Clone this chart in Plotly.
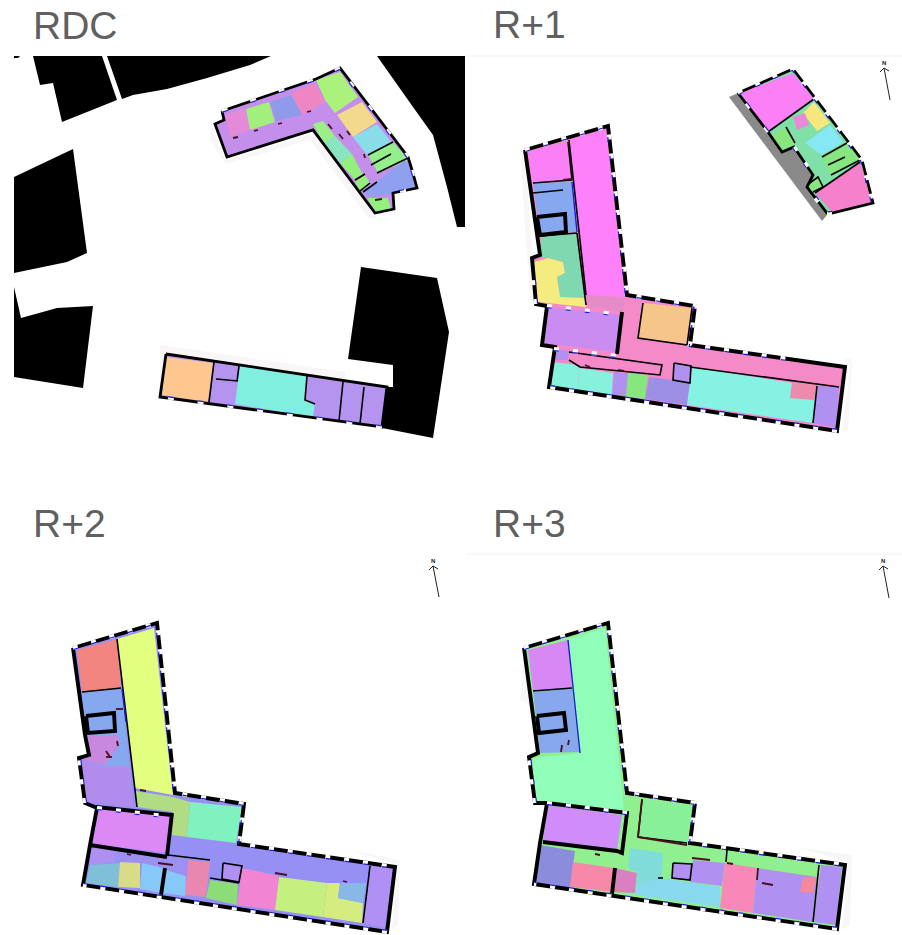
import math
import plotly.graph_objects as go

# ---------- Titles ----------
TITLES = ["RDC", "R+1", "R+2", "R+3"]
TITLE_X = [31, 491, 31, 491]
TITLE_Y = [25, 24, 523, 523]

# ---------- Site plan: neighbouring buildings on the ground floor ----------
RDC_BLOCKS = [
    [(14,56),(20,56),(18,58),(14,58)],
    [(33,56),(102,56),(117,100),(62,122),(53,83),(40,85)],
    [(107,56),(271,56),(250,65),(207,78),(167,89),(133,95),(122,99)],
    [(377,56),(465,56),(465,227),(457,227),(447,187),(433,135),(413,107)],
    [(14,177),(73,149),(87,253),(67,262),(14,273)],
    [(14,287),(21,318),(57,308),(93,306),(83,388),(14,377)],
    [(361,267),(437,278),(449,332),(433,438),(382,428),(386,387),(393,387),(393,365),(348,359)],
]
SHADOWS = [
    [(160,345),(345,372),(345,385),(160,395)],
    [(212,128),(226,160),(315,133),(363,200),(376,218),(368,218),(310,140),(226,164),(210,140)],
    [(520,150),(525,150),(536,304),(530,300)],
    [(843,357),(850,365),(842,431),(848,430),(852,360)],
    [(540,710),(524,650),(520,700)],
    [(350,850),(397,865),(392,930),(398,925),(400,860)],
    [(800,848),(848,862),(842,930),(850,925),(852,855)],
]
GRAY_BAND = [(729,97),(738,93),(768,132),(782,152),(794,147),(813,175),(807,187),(827,215),(822,221)]
RULES_Y = [56, 554]

# ---------- Building outlines ----------
OUTLINE_RDC_NORTH = [(222,111),(316,79),(340,68),(408,157),(412,170),(417,188),(393,193),(394,209),(375,213),(363,197),(313,130),(227,157),(215,124),(224,120),(222,111)]
OUTLINE_RDC_SOUTH = [(166,354),(387,387),(382,427),(160,397),(166,354)]
OUTLINE_R1_NORTH = [(738,93),(793,69),(862,160),(873,203),(832,213),(827,213),(807,187),(813,175),(794,147),(782,152),(768,132),(738,93)]
OUTLINE_R1 = [(525,150),(608,126),(627,295),(695,306),(690,345),(845,367),(837,431),(549,387),(555,347),(542,345),(547,306),(536,304),(532,258),(540,255),(525,150)]
OUTLINE_R2 = [(73,648),(157,623),(175,793),(244,804),(239,844),(395,867),(387,932),(83,885),(90,845),(97,808),(85,803),(79,758),(89,755),(85,735),(73,648)]
OUTLINE_R3 = [(524,648),(608,623),(627,793),(695,803),(690,843),(845,865),(837,929),(534,884),(540,843),(547,803),(535,803),(529,757),(538,753),(524,648)]
BASE_OUTLINES = [OUTLINE_RDC_NORTH, OUTLINE_RDC_SOUTH, OUTLINE_R1_NORTH, OUTLINE_R1, OUTLINE_R2, OUTLINE_R3]
BASE_COLORS = ["#c48fea", "#b594f0", "#7fe0a8", "#f58ac8", "#9690f4", "#90f090"]

# ---------- Rooms, floor by floor ----------
RDC_ROOMS = [
    [(217,125),(226,123),(230,137),(328,103),(333,112),(378,175),(372,182),(328,122),(312,123),(311,128),(227,156)],
    [(225,115),(245,108),(250,130),(230,137)],
    [(246,109),(269,102),(275,122),(250,130)],
    [(270,102),(291,95),(302,115),(276,121)],
    [(291,93),(315,83),(325,102),(303,115)],
    [(316,80),(340,72),(358,97),(335,113),(325,100)],
    [(337,115),(362,102),(377,122),(353,137)],
    [(353,137),(377,124),(392,143),(367,155)],
    [(368,155),(393,142),(409,160),(378,173)],
    [(363,192),(405,160),(412,172),(416,188),(393,193),(372,198)],
    [(367,198),(388,198),(391,209),(376,212)],
    [(313,124),(323,121),(335,136),(324,144)],
    [(324,144),(335,136),(352,154),(340,163)],
    [(340,163),(352,154),(363,175),(355,180)],
    [(355,182),(365,175),(370,183),(360,191)],
    [(166,357),(213,363),(208,402),(162,395)],
    [(217,363),(239,367),(237,380),(215,378)],
    [(215,380),(237,383),(235,403),(213,402)],
    [(240,366),(307,376),(305,400),(315,404),(313,417),(235,404)],
    [(308,376),(343,382),(339,421),(314,416),(315,404),(305,400)],
    [(345,383),(363,387),(360,424),(340,421)],
    [(365,387),(386,390),(381,427),(361,424)],
]
RDC_COLORS = ["#c48fea","#e48ad8","#a3ef7e","#8f9bea","#ee86c4","#abf27c","#f2d98b","#88dde8","#93ee8b",
              "#8fa0ee","#93f07c","#9cef88","#88e5c0","#93f07c","#93f07c","#fdc78f","#b594f0","#b594f0",
              "#80efe0","#b594f0","#b594f0","#b594f0"]

R1_ROOMS = [
    [(528,152),(568,142),(572,180),(532,183)],
    [(569,140),(606,130),(625,297),(586,295)],
    [(586,295),(625,298),(622,312),(587,305)],
    [(533,183),(572,182),(577,232),(540,235)],
    [(541,236),(577,233),(585,298),(560,297),(557,277),(565,273),(563,262),(548,258),(541,257)],
    [(534,262),(548,258),(563,262),(565,273),(557,277),(560,297),(585,298),(586,307),(538,302)],
    [(547,307),(622,315),(617,352),(543,343)],
    [(626,300),(642,302),(638,338),(687,345),(842,367),(839,387),(690,367),(673,363),(673,378),(662,375),(663,362),(619,355)],
    [(570,353),(662,365),(660,375),(580,367),(569,360)],
    [(643,303),(692,308),(687,344),(638,338)],
    [(555,349),(569,351),(568,360),(553,360)],
    [(552,362),(579,365),(578,390),(550,387)],
    [(579,368),(613,373),(612,395),(578,390)],
    [(614,372),(628,373),(626,397),(612,395)],
    [(628,373),(648,375),(645,399),(626,397)],
    [(649,377),(673,380),(690,383),(687,405),(645,399)],
    [(674,363),(691,366),(690,383),(673,380)],
    [(692,367),(817,387),(813,423),(687,405)],
    [(792,383),(817,385),(814,400),(790,398)],
    [(817,386),(839,387),(836,428),(813,423)],
    [(740,93),(793,73),(814,99),(768,132)],
    [(786,126),(795,117),(798,129),(808,126),(815,132),(805,143),(830,175),(815,182),(795,147)],
    [(803,113),(814,102),(830,123),(817,131)],
    [(793,117),(805,113),(809,125),(797,130)],
    [(772,135),(786,127),(795,143),(782,152)],
    [(805,143),(830,125),(843,142),(822,155)],
    [(822,157),(847,143),(860,160),(831,175)],
    [(807,185),(818,177),(823,187),(813,192)],
    [(815,193),(860,162),(865,177),(873,203),(832,212)],
]
R1_COLORS = ["#fb80f5","#fe80fa","#e48cc8","#86a8ee","#7fd8b0","#f5ec80","#c98df2","#f58ac8","#f58ac8",
             "#f5c58a","#b090f0","#86f2dc","#86f2dc","#b090f0","#88e67f","#9d8fe6","#b090f0","#86f2e4",
             "#ee8aaa","#b090f0","#fb80f5","#7fe0a8","#f8e67f","#e88ad8","#88e67f","#86e8f4","#88e67f",
             "#88e67f","#f580cc"]

R2_ROOMS = [
    [(77,650),(117,639),(121,688),(82,692)],
    [(117,639),(154,628),(173,795),(135,788)],
    [(82,693),(122,689),(132,790),(90,790)],
    [(88,736),(118,735),(119,745),(105,765),(83,760),(90,755)],
    [(82,760),(105,766),(129,766),(134,807),(86,802)],
    [(135,791),(173,797),(190,802),(187,837),(172,835),(173,812),(137,807)],
    [(190,802),(242,807),(236,843),(187,837)],
    [(96,807),(172,815),(167,853),(93,844)],
    [(171,837),(237,845),(370,865),(367,882),(340,882),(280,875),(242,867),(223,863),(220,878),(212,878),(210,860),(168,855)],
    [(188,860),(210,862),(206,897),(185,895)],
    [(115,850),(167,857),(188,860),(187,875),(163,868),(115,860)],
    [(92,847),(115,849),(115,862),(90,865)],
    [(90,865),(120,863),(118,887),(86,883)],
    [(120,862),(140,863),(140,888),(118,887)],
    [(142,863),(163,868),(161,893),(140,889)],
    [(166,870),(186,876),(185,896),(163,893)],
    [(210,880),(238,884),(237,905),(206,898)],
    [(223,863),(242,866),(239,882),(222,879)],
    [(242,868),(279,876),(275,910),(237,905)],
    [(279,877),(327,883),(323,917),(275,910)],
    [(327,883),(340,883),(338,898),(363,903),(362,923),(323,917)],
    [(341,883),(366,883),(363,903),(338,898)],
    [(371,865),(393,868),(385,928),(363,923)],
]
R2_COLORS = ["#f28580","#e2ff80","#86a8ee","#c888e0","#b28cec","#b0dc84","#80f2c0","#dc88f5","#9690f4",
             "#e888b0","#9c90f0","#ae90f0","#7fbfd8","#d8dc88","#86c8f8","#86c8f8","#8cdc78","#b090f0",
             "#f284d4","#c4f080","#d4ec80","#88b8e8","#b090f4"]

R3_ROOMS = [
    [(568,639),(605,628),(624,810),(535,802),(533,758),(580,753)],
    [(528,650),(568,640),(572,688),(533,691)],
    [(533,692),(572,688),(579,752),(540,753)],
    [(547,805),(622,815),(617,850),(543,842)],
    [(630,797),(642,799),(638,837),(687,843),(727,850),(818,863),(817,875),(727,863),(693,858),(690,880),(663,878),(663,853),(630,848),(628,867),(573,860),(575,851),(618,857),(627,813)],
    [(642,800),(692,806),(687,843),(638,836)],
    [(540,845),(575,851),(570,888),(535,883)],
    [(573,862),(614,868),(613,892),(570,887)],
    [(615,868),(637,873),(635,893),(613,892)],
    [(630,848),(663,853),(661,890),(636,889),(637,872),(628,868)],
    [(636,885),(662,878),(720,887),(720,907),(635,895)],
    [(673,863),(692,864),(690,880),(672,878)],
    [(693,860),(725,863),(722,886),(690,882)],
    [(725,863),(757,868),(753,913),(720,908)],
    [(757,868),(817,877),(812,922),(753,913)],
    [(803,877),(817,877),(813,893),(800,892)],
    [(821,865),(842,867),(836,925),(813,922)],
]
R3_COLORS = ["#90fdb8","#d888f5","#88a8ee","#d08cfa","#90f090","#88f098","#8c8cdc","#f888a8","#d880c0",
             "#80dcd8","#88d8ee","#b090f0","#b090f0","#f888b8","#b090f0","#f28a9c","#b090f0"]

# ---------- Walls ----------
FINE_OUTLINES = [OUTLINE_RDC_NORTH, OUTLINE_RDC_SOUTH, OUTLINE_R1_NORTH]
HEAVY_WALLS = [
    OUTLINE_R1, OUTLINE_R2, OUTLINE_R3,
    [(537,217),(565,214),(566,232),(540,235),(537,217)],
    [(622,312),(617,354)],
    [(86,716),(114,713),(115,731),(88,733),(86,716)],
    [(172,813),(167,856)],
    [(96,807),(172,815)],
    [(90,845),(167,857)],
    [(165,868),(161,895)],
    [(537,716),(564,713),(566,730),(539,733),(537,716)],
    [(547,803),(627,813),(622,853),(617,851),(543,842)],
    [(615,868),(612,894)],
]
THIN_WALLS = [
    # RDC
    [(368,155),(393,142)], [(377,173),(408,158)], [(371,165),(391,154)],
    [(355,180),(365,174)], [(360,191),(370,183)], [(363,192),(377,182)],
    [(214,362),(209,402)], [(216,379),(238,381)], [(239,366),(237,381)],
    [(343,382),(339,421)], [(364,387),(360,424)], [(307,376),(305,400),(315,404)],
    # R+1
    [(568,142),(572,180)], [(533,183),(572,180)], [(533,193),(563,190)],
    [(569,140),(586,295)], [(541,236),(577,233)], [(577,233),(586,305)],
    [(643,303),(638,338),(687,345)], [(692,308),(687,345)],
    [(569,352),(662,365),(660,375),(580,367),(569,360)], [(674,363),(691,366),(690,383),(673,380),(674,363)],
    [(690,367),(839,387)], [(817,386),(813,423)],
    [(768,132),(814,99)], [(822,157),(847,143)], [(831,175),(860,160)], [(828,165),(845,157)],
    [(807,185),(818,177),(823,187),(813,192)], [(815,193),(860,162)],
    [(786,127),(795,143)],
    # R+2
    [(117,639),(135,790)], [(82,692),(121,688)], [(135,790),(137,807)],
    [(223,863),(242,866),(239,882),(222,879),(223,863)], [(210,878),(239,883)],
    [(370,866),(363,923)], [(168,855),(210,860)],
    # R+3
    [(533,691),(572,688)], [(642,800),(638,837),(687,843)],
    [(673,863),(692,864),(690,880),(672,878),(673,863)], [(727,850),(726,862)],
    [(819,865),(813,922)], [(658,878),(663,878)],
]
BLUE_LINES = [
    [(572,182),(577,232)],
    [(568,640),(580,753)],
    [(122,689),(126,722)],
]
DARK_MARKS = [
    [(233,138),(238,137)], [(254,131),(258,130)], [(278,124),(282,123)], [(307,112),(311,111)],
    [(328,124),(332,129)], [(339,134),(343,139)], [(347,131),(350,135)], [(364,154),(365,158)],
    [(375,200),(382,199)], [(563,180),(572,179)],
    [(585,365),(590,367)], [(618,370),(624,371)], [(116,709),(123,709)],
    [(106,751),(110,757)], [(106,757),(112,757)], [(117,741),(118,746)],
    [(140,790),(146,791)], [(158,863),(173,865)], [(275,873),(287,875)], [(343,881),(347,882)],
    [(127,854),(131,855)], [(595,854),(600,855)], [(692,858),(710,860)], [(727,863),(733,864)],
    [(758,868),(757,880)], [(762,883),(773,885)], [(561,752),(562,745)], [(568,745),(569,740)],
    [(642,799),(638,837)], [(638,837),(687,845)],
]
SPARSE_WINDOW_RUNS = [
    [(222,111),(316,79),(340,68)],
    [(350,82),(408,157)],
    [(412,170),(417,188),(393,193)],
    [(382,427),(160,397)],
    [(768,132),(738,93)],
]
WINDOW_RUNS = [
    # R+1
    [(525,150),(608,126),(627,295),(695,306),(690,345),(795,360)],
    [(837,431),(549,387)],
    [(547,306),(622,315)],
    [(554,349),(618,356)],
    [(536,304),(533,270)],
    [(738,93),(793,69),(862,160),(873,203)],
    [(832,213),(827,213),(807,187)],
    [(794,147),(813,175)],
    # R+2
    [(73,648),(157,623),(175,793),(244,804),(239,844),(395,867)],
    [(387,932),(83,885)],
    [(97,808),(172,817)],
    [(85,803),(79,758)],
    # R+3
    [(524,648),(608,623),(627,793),(695,803),(690,843),(845,865)],
    [(837,929),(534,884)],
    [(547,803),(627,813)],
    [(535,803),(529,757)],
]

# ---------- North arrows ----------
NORTH_TAILS = [(890,100),(439,597),(889,598)]
NORTH_TIPS = [(884,68),(433,566),(883,566)]
NORTH_LABELS = ["N", "N", "N"]


def xy(points):
    return [p[0] for p in points], [p[1] for p in points]


fig = go.Figure()


def fill(points, color):
    x, y = xy(points)
    fig.add_trace(go.Scatter(x=x + [x[0]], y=y + [y[0]], mode="lines", fill="toself",
                             fillcolor=color, line=dict(width=0), hoverinfo="skip", showlegend=False))


def line(points, color, width, dash="solid"):
    x, y = xy(points)
    fig.add_trace(go.Scatter(x=x, y=y, mode="lines", hoverinfo="skip", showlegend=False,
                             line=dict(color=color, width=width, dash=dash)))


def inner(path, by):
    out = []
    for i, (px, py) in enumerate(path):
        a = path[max(i - 1, 0)]
        b = path[min(i + 1, len(path) - 1)]
        dx, dy = b[0] - a[0], b[1] - a[1]
        n = math.hypot(dx, dy)
        out.append((px - dy / n * by, py + dx / n * by))
    return out


for poly in SHADOWS:
    fill(poly, "rgba(190,170,170,0.10)")
for y_rule in RULES_Y:
    line([(466, y_rule), (902, y_rule)], "#f2f2f2", 1)
for poly in RDC_BLOCKS:
    fill(poly, "#000000")
fill(GRAY_BAND, "#8a8a8a")
for poly, color in zip(BASE_OUTLINES, BASE_COLORS):
    fill(poly, color)
for rooms, colors in [(RDC_ROOMS, RDC_COLORS), (R1_ROOMS, R1_COLORS), (R2_ROOMS, R2_COLORS), (R3_ROOMS, R3_COLORS)]:
    for poly, color in zip(rooms, colors):
        fill(poly, color)
for path in THIN_WALLS:
    line(path, "#000000", 1.6)
for path in BLUE_LINES:
    line(path, "#1a1ae0", 1.4)
for path in DARK_MARKS:
    line(path, "#4a1020", 1.8)
for path in FINE_OUTLINES:
    line(path, "#000000", 2.8)
for path in HEAVY_WALLS:
    line(path, "#000000", 3.9)
for path in SPARSE_WINDOW_RUNS:
    line(path, "#ffffff", 3.0, "6px,24px")
    line(inner(path, 1.2), "#1a1ae0", 1.2, "6px,24px")
for path in WINDOW_RUNS:
    line(path, "#ffffff", 4.2, "5px,14px")
    line(inner(path, 1.6), "#1a1ae0", 1.2, "5px,14px")

for tail, tip, label in zip(NORTH_TAILS, NORTH_TIPS, NORTH_LABELS):
    line([tail, tip], "#222222", 1)
    line([(tip[0] - 4, tip[1] + 4), tip, (tip[0] + 5, tip[1] + 3)], "#222222", 1)
    fig.add_annotation(x=tip[0], y=tip[1] - 5, text=f"<b>{label}</b>", showarrow=False,
                       font=dict(family="Liberation Sans", size=6, color="#222222"))

for text, x, y in zip(TITLES, TITLE_X, TITLE_Y):
    fig.add_annotation(x=x, y=y, text=text, showarrow=False, xanchor="left", yanchor="middle",
                       font=dict(family="Liberation Sans", size=39, color="#606060"))

fig.update_layout(width=902, height=935, margin=dict(l=0, r=0, t=0, b=0),
                  paper_bgcolor="white", plot_bgcolor="white", showlegend=False,
                  xaxis=dict(range=[0, 902], visible=False, fixedrange=True),
                  yaxis=dict(range=[935, 0], visible=False, fixedrange=True))
fig.write_html("out.html", config=dict(displayModeBar=False),
               post_script="document.body.style.margin='0';")
